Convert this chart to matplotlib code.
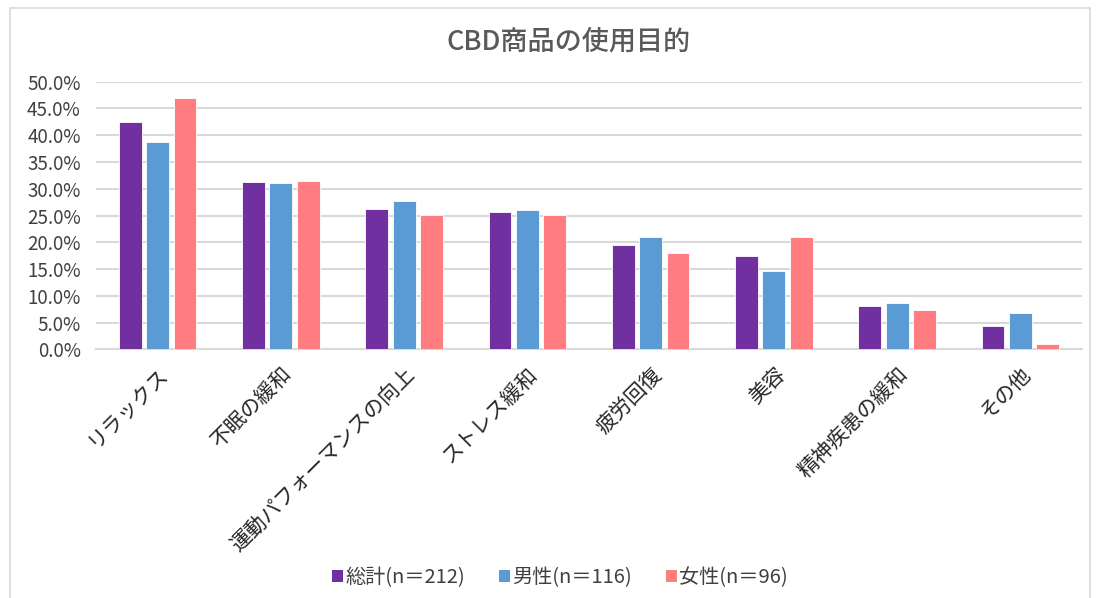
import matplotlib
matplotlib.use('Agg')
import matplotlib.pyplot as plt
from matplotlib.patches import Patch, Rectangle
from matplotlib.ticker import PercentFormatter
import numpy as np

plt.rcParams['font.family'] = ['Noto Sans CJK JP', 'DejaVu Sans']

TITLE = 'CBD商品の使用目的'
CATEGORIES = ['リラックス', '不眠の緩和', '運動パフォーマンスの向上', 'ストレス緩和',
              '疲労回復', '美容', '精神疾患の緩和', 'その他']
SERIES = ['総計(n＝212)', '男性(n＝116)', '女性(n＝96)']
TOTAL = [42.5, 31.2, 26.3, 25.6, 19.4, 17.5, 8.0, 4.3]
MALE = [38.8, 31.0, 27.7, 26.0, 20.9, 14.7, 8.6, 6.8]
FEMALE = [47.0, 31.4, 25.1, 25.1, 17.9, 20.9, 7.3, 1.0]
COLORS = ['#7030a0', '#5b9bd5', '#ff7c80']
TEXT_COLOR = '#595959'

fig = plt.figure(figsize=(10.98, 5.98), dpi=100)
fig.patches.append(Rectangle((10 / 1098, -0.01), 1080 / 1098, 1 - 8 / 598 + 0.01,
                             transform=fig.transFigure, fill=False,
                             edgecolor='#d9d9d9', linewidth=1.2))

ax = fig.add_axes([96 / 1098, 1 - 349.3 / 598, 986 / 1098, 267.6 / 598])

x = np.arange(len(CATEGORIES))
width = 0.186
step = 0.222
for i, (vals, color) in enumerate(zip([TOTAL, MALE, FEMALE], COLORS)):
    ax.bar(x + (i - 1) * step, vals, width, color=color, edgecolor='white',
           linewidth=0.6, zorder=3)

ax.set_xlim(-0.5, len(CATEGORIES) - 0.5)
ax.set_ylim(0, 50)
ax.set_yticks(np.arange(0, 50.1, 5))
ax.yaxis.set_major_formatter(PercentFormatter(decimals=1))
ax.grid(axis='y', color='#d9d9d9', linewidth=1.5, zorder=0)
for side in ['top', 'right', 'left']:
    ax.spines[side].set_visible(False)
ax.spines['bottom'].set_color('#d9d9d9')
ax.spines['bottom'].set_linewidth(1.5)
ax.tick_params(axis='both', length=0, colors=TEXT_COLOR)
ax.tick_params(axis='y', labelsize=13.5, pad=11, labelcolor='#404040')
ax.set_xticks(x)
ax.set_xticklabels(CATEGORIES, rotation=45, ha='right', rotation_mode='anchor',
                   fontsize=15, color='#262626')
ax.tick_params(axis='x', pad=10)

fig.text(569 / 1098, 1 - 42 / 598, TITLE, ha='center', va='center', fontsize=19.5,
         color=TEXT_COLOR, fontweight='medium')

handles = [Patch(facecolor=c, edgecolor='none') for c in COLORS]
fig.legend(handles, SERIES, loc='center', bbox_to_anchor=(560 / 1098, 1 - 578 / 598), ncol=3,
           frameon=False, fontsize=14.5, handlelength=0.55, handleheight=0.55,
           handletextpad=0.1, columnspacing=1.7, labelcolor='#404040')

fig.savefig('out.png', dpi=100)
